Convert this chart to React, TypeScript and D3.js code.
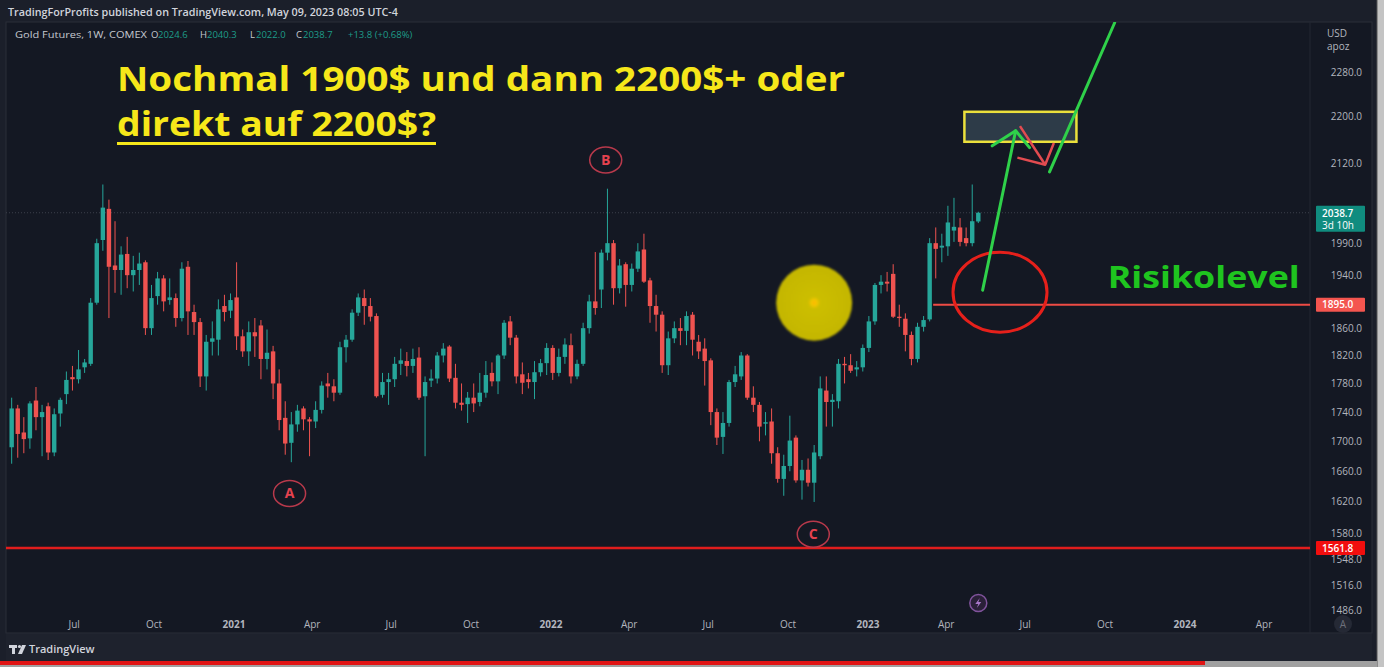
import React from 'react';
import * as d3 from 'd3';

const W = 1384;
const H = 667;

// Gold Futures, 1W, COMEX - first weekly bar starts on this Monday
const firstWeek = '2020-04-20';

// weekly candles: [open, high, low, close]
const candles: [number, number, number, number][] = [
  [1692, 1760, 1670, 1745], [1745, 1750, 1678, 1710], [1712, 1733, 1684, 1703], [1704, 1755, 1690, 1752],
  [1756, 1775, 1715, 1733], [1733, 1750, 1680, 1740], [1748, 1753, 1675, 1685], [1685, 1745, 1680, 1737],
  [1738, 1760, 1720, 1757], [1765, 1797, 1751, 1785], [1789, 1805, 1770, 1786], [1786, 1828, 1780, 1800],
  [1803, 1815, 1795, 1810], [1808, 1905, 1805, 1898], [1898, 1997, 1895, 1990], [1995, 2085, 1978, 2047],
  [2045, 2060, 1875, 1953], [1955, 2025, 1913, 1948], [1948, 1985, 1910, 1972], [1973, 2000, 1920, 1940],
  [1940, 1970, 1915, 1948], [1948, 1975, 1925, 1958], [1960, 1963, 1850, 1860], [1860, 1925, 1850, 1905],
  [1908, 1945, 1895, 1935], [1935, 1940, 1885, 1900], [1902, 1935, 1895, 1906], [1905, 1912, 1862, 1875],
  [1875, 1960, 1870, 1950], [1953, 1962, 1850, 1885], [1884, 1895, 1850, 1869], [1869, 1875, 1775, 1790],
  [1790, 1850, 1770, 1840], [1840, 1870, 1820, 1845], [1843, 1903, 1820, 1888], [1893, 1910, 1870, 1884],
  [1886, 1912, 1875, 1902], [1906, 1960, 1828, 1848], [1848, 1858, 1818, 1826], [1826, 1870, 1805, 1854],
  [1854, 1875, 1818, 1848], [1864, 1872, 1786, 1815], [1815, 1858, 1800, 1824], [1826, 1834, 1758, 1780],
  [1780, 1800, 1715, 1729], [1732, 1755, 1682, 1697], [1698, 1740, 1672, 1723], [1723, 1750, 1713, 1742],
  [1745, 1748, 1715, 1730], [1730, 1733, 1680, 1727], [1727, 1755, 1718, 1743], [1743, 1783, 1738, 1777],
  [1780, 1795, 1760, 1776], [1776, 1786, 1755, 1767], [1767, 1840, 1764, 1832], [1832, 1850, 1810, 1843],
  [1843, 1888, 1840, 1883], [1883, 1912, 1878, 1906], [1905, 1918, 1865, 1893], [1893, 1905, 1870, 1877],
  [1878, 1882, 1760, 1762], [1764, 1795, 1760, 1782], [1782, 1795, 1750, 1786], [1786, 1818, 1775, 1808],
  [1808, 1830, 1792, 1813], [1812, 1825, 1790, 1805], [1805, 1830, 1795, 1815], [1817, 1832, 1757, 1760],
  [1762, 1790, 1680, 1782], [1784, 1800, 1775, 1787], [1787, 1825, 1780, 1820], [1820, 1838, 1810, 1830],
  [1833, 1835, 1782, 1787], [1788, 1808, 1745, 1753], [1753, 1780, 1742, 1750], [1751, 1768, 1725, 1760],
  [1760, 1780, 1740, 1752], [1754, 1795, 1748, 1767], [1767, 1812, 1760, 1792], [1795, 1810, 1776, 1783],
  [1783, 1822, 1765, 1820], [1820, 1872, 1815, 1868], [1870, 1878, 1835, 1846], [1846, 1850, 1780, 1790],
  [1793, 1810, 1765, 1781], [1786, 1795, 1773, 1782], [1782, 1812, 1758, 1796], [1796, 1815, 1790, 1809],
  [1809, 1838, 1792, 1831], [1831, 1835, 1785, 1795], [1795, 1830, 1790, 1818], [1818, 1845, 1808, 1836],
  [1835, 1852, 1780, 1790], [1790, 1814, 1786, 1808], [1808, 1868, 1805, 1860], [1860, 1910, 1852, 1900],
  [1900, 1976, 1880, 1890], [1918, 1980, 1890, 1975], [1975, 2078, 1963, 1990], [1990, 1995, 1895, 1920],
  [1920, 1965, 1912, 1955], [1957, 1960, 1892, 1925], [1925, 1958, 1915, 1950], [1950, 1990, 1945, 1977],
  [1980, 2005, 1928, 1930], [1932, 1936, 1868, 1893], [1893, 1910, 1855, 1880], [1880, 1885, 1795, 1806],
  [1806, 1855, 1792, 1845], [1845, 1870, 1838, 1860], [1860, 1875, 1835, 1856], [1856, 1885, 1835, 1878],
  [1880, 1884, 1820, 1843], [1840, 1850, 1815, 1826], [1830, 1845, 1777, 1812], [1813, 1816, 1722, 1740],
  [1740, 1745, 1695, 1705], [1706, 1740, 1683, 1725], [1725, 1785, 1720, 1782], [1782, 1805, 1775, 1793],
  [1790, 1825, 1785, 1820], [1820, 1822, 1757, 1760], [1760, 1776, 1740, 1750], [1750, 1754, 1700, 1720],
  [1724, 1740, 1708, 1726], [1727, 1745, 1670, 1684], [1684, 1692, 1645, 1650], [1650, 1682, 1628, 1667],
  [1667, 1735, 1660, 1701], [1705, 1708, 1645, 1648], [1648, 1675, 1623, 1662], [1662, 1677, 1640, 1645],
  [1645, 1695, 1620, 1685], [1680, 1790, 1676, 1773], [1770, 1790, 1720, 1754], [1754, 1765, 1720, 1757],
  [1755, 1815, 1745, 1808], [1808, 1818, 1780, 1806], [1806, 1822, 1795, 1798], [1800, 1812, 1790, 1803],
  [1803, 1836, 1797, 1831], [1831, 1878, 1825, 1870], [1870, 1928, 1865, 1925], [1925, 1940, 1912, 1930],
  [1930, 1945, 1915, 1927], [1942, 1957, 1875, 1877], [1877, 1895, 1862, 1875], [1874, 1882, 1826, 1850],
  [1850, 1855, 1806, 1815], [1815, 1868, 1810, 1862], [1862, 1878, 1855, 1872], [1873, 1998, 1870, 1990],
  [1990, 2015, 1935, 1981], [1983, 2005, 1960, 1986], [1985, 2050, 1970, 2023], [2010, 2063, 1992, 2016],
  [2015, 2030, 1985, 1992], [1998, 2015, 1985, 1990], [1990, 2085, 1985, 2025], [2024.6, 2040.3, 2022.0, 2038.7],
];

const timeTickDates = [
  '2020-07-01', '2020-10-01', '2021-01-01', '2021-04-01', '2021-07-01', '2021-10-01', '2022-01-01', '2022-04-01',
  '2022-07-01', '2022-10-01', '2023-01-01', '2023-04-01', '2023-07-01', '2023-10-01', '2024-01-01', '2024-04-01',
];
const timeTickLabels = ['Jul', 'Oct', '2021', 'Apr', 'Jul', 'Oct', '2022', 'Apr', 'Jul', 'Oct', '2023', 'Apr', 'Jul', 'Oct', '2024', 'Apr'];

const priceTicks = [2280, 2200, 2120, 1990, 1940, 1860, 1820, 1780, 1740, 1700, 1660, 1620, 1580, 1548, 1516, 1486];

const lastPrice = 2038.7;
const riskLevel = 1895.0;
const supportLevel = 1561.8;
const riskLineStart = '2023-03-17';

// wave labels: [label, date, price]
const waveLabels: [string, string, number][] = [
  ['A', '2021-03-06', 1631],
  ['B', '2022-03-05', 2126],
  ['C', '2022-10-30', 1579],
];

// hand drawn arrows as [date, price] polylines
const greenArrows: [string, number][][] = [
  [['2023-05-13', 1917], ['2023-06-20', 2176]],
  [['2023-05-24', 2150], ['2023-06-20', 2176], ['2023-07-06', 2147]],
  [['2023-07-29', 2106], ['2023-10-12', 2371]],
];
const redArrows: [string, number][][] = [
  [['2023-06-25', 2184], ['2023-07-24', 2118]],
  [['2023-06-22', 2130], ['2023-07-24', 2118], ['2023-08-03', 2155]],
];
const targetZone = { from: '2023-04-22', to: '2023-08-29', top: 2209, bottom: 2157 };
const riskCircle = { date: '2023-06-02', price: 1914 };
const sunMark = { date: '2022-10-31', price: 1898 };
const riskText = { date: '2023-10-04', price: 1920 };
const eventDate = '2023-05-08';

const UP = '#26a69a';
const DOWN = '#ef5350';
const AXIS_TEXT = '#b2b5be';
const UI_FONT = "'Open Sans', 'Noto Sans', sans-serif";

export default function App() {
  const x = d3.scaleUtc().domain([new Date('2021-01-01'), new Date('2023-01-01')]).range([234, 868]);
  const y = d3.scaleLog().domain([supportLevel, 2280]).range([548, 72]);
  const d = (s: string) => new Date(s + 'T00:00:00Z');
  const t0 = d(firstWeek).getTime();
  const line = d3
    .line<[string, number]>()
    .x((p) => x(d(p[0])))
    .y((p) => y(p[1]));

  const plotRight = 1310;
  const bodyW = 4.4;

  return (
    <svg width={W} height={H} style={{ position: 'absolute', left: 0, top: 0, display: 'block' }}>
      <defs>
        <radialGradient id="sun">
          <stop offset="0%" stopColor="#ffb400" />
          <stop offset="7%" stopColor="#f4c600" />
          <stop offset="16%" stopColor="#ccbe00" />
          <stop offset="100%" stopColor="#c4b600" />
        </radialGradient>
        <filter id="soft">
          <feGaussianBlur stdDeviation="1.1" />
        </filter>
        <clipPath id="plot">
          <rect x={6} y={22} width={plotRight - 6} height={592} />
        </clipPath>
        <clipPath id="paxis">
          <rect x={plotRight} y={22} width={62} height={592} />
        </clipPath>
      </defs>

      {/* frame */}
      <rect x={0} y={0} width={W} height={H} fill="#1b1f2a" />
      <rect x={6} y={22} width={1366} height={611} fill="#141823" stroke="#2a2e39" />
      <line x1={plotRight} x2={plotRight} y1={22} y2={633} stroke="#232733" />
      <rect x={1377} y={0} width={7} height={H} fill="#c4c4c4" />
      <line x1={1377} x2={1377} y1={0} y2={H} stroke="#555" />

      {/* header */}
      <text x={8} y={16} fontFamily={UI_FONT} fontSize={11} fontWeight={600} fill="#d1d4dc" textLength={390} lengthAdjust="spacingAndGlyphs">
        TradingForProfits published on TradingView.com, May 09, 2023 08:05 UTC-4
      </text>
      <g fontFamily={UI_FONT} fontSize={9.5} fontWeight={500}>
        <text x={15} y={38} fill="#c5c8d0" textLength={132} lengthAdjust="spacingAndGlyphs">Gold Futures, 1W, COMEX</text>
        <text x={151} y={38} fill="#c5c8d0">O</text>
        <text x={158} y={38} fill="#1e9c89">2024.6</text>
        <text x={200} y={38} fill="#c5c8d0">H</text>
        <text x={207} y={38} fill="#1e9c89">2040.3</text>
        <text x={250} y={38} fill="#c5c8d0">L</text>
        <text x={256} y={38} fill="#1e9c89">2022.0</text>
        <text x={296} y={38} fill="#c5c8d0">C</text>
        <text x={303} y={38} fill="#1e9c89">2038.7</text>
        <text x={348} y={38} fill="#1e9c89">+13.8 (+0.68%)</text>
      </g>

      <g clipPath="url(#plot)">
        {/* last price line */}
        <line x1={6} x2={plotRight} y1={y(lastPrice)} y2={y(lastPrice)} stroke="#3b3f4b" strokeDasharray="1 2" />

        {/* candles */}
        {candles.map(([o, h, l, c], i) => {
          const cx = x(new Date(t0 + i * 7 * 864e5));
          const col = c >= o ? UP : DOWN;
          const top = y(Math.max(o, c));
          const bh = Math.max(1, y(Math.min(o, c)) - top);
          return (
            <g key={i}>
              <line x1={cx} x2={cx} y1={y(h)} y2={y(l)} stroke={col} strokeWidth={1} />
              <rect x={cx - bodyW / 2} y={top} width={bodyW} height={bh} fill={col} />
            </g>
          );
        })}

        {/* support and risk levels */}
        <line x1={6} x2={plotRight} y1={y(supportLevel)} y2={y(supportLevel)} stroke="#e11d1d" strokeWidth={2.5} />
        <line x1={x(d(riskLineStart))} x2={plotRight} y1={y(riskLevel)} y2={y(riskLevel)} stroke="#ee4b45" strokeWidth={2} />

        {/* wave labels */}
        {waveLabels.map(([t, dt, p]) => (
          <g key={t}>
            <ellipse cx={x(d(dt))} cy={y(p)} rx={16} ry={13} fill="none" stroke="#b8394b" strokeWidth={1.5} />
            <text x={x(d(dt))} y={y(p)} dy="0.36em" textAnchor="middle" fontFamily={UI_FONT} fontSize={14} fontWeight={700} fill="#e5424f">
              {t}
            </text>
          </g>
        ))}

        {/* sun mark */}
        <circle cx={x(d(sunMark.date))} cy={y(sunMark.price)} r={38} fill="url(#sun)" filter="url(#soft)" />

        {/* risk circle */}
        <ellipse cx={x(d(riskCircle.date))} cy={y(riskCircle.price)} rx={47} ry={40} fill="none" stroke="#e6201b" strokeWidth={3} />

        {/* target zone */}
        <rect
          x={x(d(targetZone.from))}
          y={y(targetZone.top)}
          width={x(d(targetZone.to)) - x(d(targetZone.from))}
          height={y(targetZone.bottom) - y(targetZone.top)}
          fill="#2d3b48"
          stroke="#ebe03c"
          strokeWidth={2.5}
        />

        {/* arrows */}
        {redArrows.map((pts, i) => (
          <path key={'r' + i} d={line(pts) || ''} fill="none" stroke="#e34b50" strokeWidth={2.5} strokeLinejoin="round" />
        ))}
        {greenArrows.map((pts, i) => (
          <path key={'g' + i} d={line(pts) || ''} fill="none" stroke="#2fd14a" strokeWidth={3} strokeLinecap="round" strokeLinejoin="round" />
        ))}

        <text
          x={x(d(riskText.date))}
          y={y(riskText.price)}
          fontFamily={UI_FONT}
          fontSize={30}
          fontWeight={700}
          fill="#1fc41f"
          textLength={192}
          lengthAdjust="spacingAndGlyphs"
        >
          Risikolevel
        </text>
      </g>

      {/* title */}
      <g fontFamily={UI_FONT} fontWeight={700} fontSize={34} fill="#f6e71a">
        <text x={117} y={91} textLength={728} lengthAdjust="spacingAndGlyphs">
          Nochmal 1900$ und dann 2200$+ oder
        </text>
        <text x={117} y={136} textLength={319} lengthAdjust="spacingAndGlyphs">
          direkt auf 2200$?
        </text>
        <rect x={117} y={142} width={319} height={3} />
      </g>

      {/* price axis */}
      <g clipPath="url(#paxis)" fontFamily={UI_FONT} fontSize={10} fill={AXIS_TEXT}>
        <text x={1327} y={37}>USD</text>
        <text x={1327} y={50}>apoz</text>
        {priceTicks.map((p) => (
          <text key={p} x={1362} y={y(p)} dy="0.35em" textAnchor="end">
            {p.toFixed(1)}
          </text>
        ))}
      </g>
      <g fontFamily={UI_FONT} fontSize={10} fontWeight={600} fill="#ffffff">
        <rect x={1316} y={y(lastPrice) - 7} width={49} height={26} rx={1} fill="#108c7f" />
        <text x={1322} y={y(lastPrice) + 4}>{lastPrice.toFixed(1)}</text>
        <text x={1322} y={y(lastPrice) + 16} fontWeight={400}>3d 10h</text>
        <rect x={1316} y={y(riskLevel) - 7} width={49} height={14} rx={1} fill="#f4554f" />
        <text x={1322} y={y(riskLevel)} dy="0.35em">{riskLevel.toFixed(1)}</text>
        <rect x={1316} y={y(supportLevel) - 7} width={49} height={14} rx={1} fill="#f20e0e" />
        <text x={1322} y={y(supportLevel)} dy="0.35em">{supportLevel.toFixed(1)}</text>
      </g>

      {/* time axis */}
      <g fontFamily={UI_FONT} fontSize={10} fill={AXIS_TEXT} textAnchor="middle">
        {timeTickDates.map((s, i) => (
          <text key={s} x={x(d(s))} y={628} fontWeight={/^\d+$/.test(timeTickLabels[i]) ? 700 : 400}>
            {timeTickLabels[i]}
          </text>
        ))}
      </g>
      <g transform={`translate(${x(d(eventDate))},603)`}>
        <circle r={8.5} fill="#2a2038" stroke="#80539c" strokeWidth={1.5} />
        <path d="M1.5,-5 L-3,1 L0,1 L-1.5,5 L3,-1 L0,-1 Z" fill="#a877c8" />
      </g>
      <circle cx={1343} cy={624} r={9} fill="#252935" />
      <text x={1343} y={628} textAnchor="middle" fontFamily={UI_FONT} fontSize={10} fill="#6d707b">A</text>

      {/* footer */}
      <rect x={6} y={634} width={1366} height={27} fill="#1e222d" />
      <g fill="#d1d4dc">
        <rect x={9} y={645} width={8} height={3} />
        <rect x={12} y={645} width={3} height={9} />
        <circle cx={19.5} cy={646.5} r={1.6} />
        <path d="M22,645 L26,645 L22,654 L18,654 Z" />
      </g>
      <text x={29} y={653} fontFamily={UI_FONT} fontSize={11} fontWeight={600} fill="#d1d4dc">TradingView</text>
      <rect x={0} y={661} width={1377} height={6} fill="#a0a0a0" />
      <rect x={0} y={661} width={1205} height={4} fill="#e01414" />
    </svg>
  );
}
